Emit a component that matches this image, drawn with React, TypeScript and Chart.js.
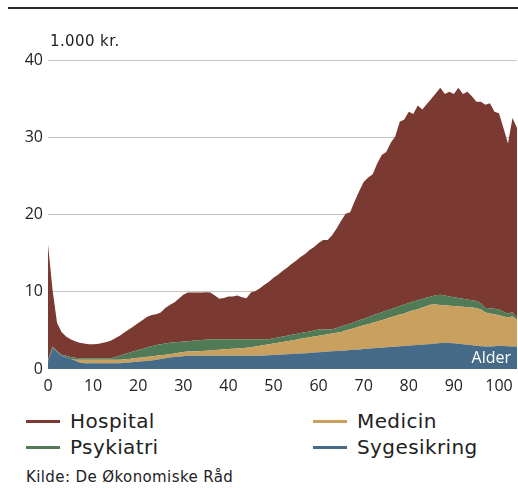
import React, { useEffect, useRef } from "react";
import { Chart, registerables } from "chart.js";

Chart.register(...registerables);

const AGES = [
  0, 1, 2, 3, 4, 5, 6, 7, 8, 9, 10, 11, 12, 13, 14, 15, 16, 17, 18, 19, 20,
  21, 22, 23, 24, 25, 26, 27, 28, 29, 30, 31, 32, 33, 34, 35, 36, 37, 38, 39, 40,
  41, 42, 43, 44, 45, 46, 47, 48, 49, 50, 51, 52, 53, 54, 55, 56, 57, 58, 59, 60,
  61, 62, 63, 64, 65, 66, 67, 68, 69, 70, 71, 72, 73, 74, 75, 76, 77, 78, 79, 80,
  81, 82, 83, 84, 85, 86, 87, 88, 89, 90, 91, 92, 93, 94, 95, 96, 97, 98, 99, 100,
  101, 102, 103, 104,
];

const SYGESIKRING = [
  1.0, 2.7, 2.2, 1.7, 1.5, 1.3, 1.1, 0.85, 0.75, 0.75, 0.75, 0.75, 0.75, 0.75, 0.75, 0.75, 0.75, 0.8, 0.85, 0.9, 0.95,
  1.0, 1.05, 1.1, 1.2, 1.3, 1.4, 1.5, 1.55, 1.6, 1.65, 1.7, 1.7, 1.7, 1.7, 1.7, 1.7, 1.7, 1.7, 1.7, 1.7,
  1.7, 1.7, 1.7, 1.7, 1.7, 1.7, 1.72, 1.75, 1.78, 1.81, 1.85, 1.88, 1.91, 1.94, 1.97, 2.0, 2.04, 2.08, 2.12, 2.16,
  2.21, 2.25, 2.29, 2.33, 2.37, 2.41, 2.45, 2.5, 2.54, 2.58, 2.63, 2.67, 2.72, 2.76, 2.8, 2.84, 2.88, 2.93, 2.97, 3.01,
  3.06, 3.1, 3.15, 3.2, 3.25, 3.3, 3.35, 3.4, 3.38, 3.32, 3.26, 3.2, 3.14, 3.08, 3.02, 2.96, 2.9, 2.9, 2.95, 3.0,
  2.98, 2.95, 2.92, 2.9,
];

const MEDICIN = [
  0, 0, 0, 0, 0, 0, 0.1, 0.35, 0.45, 0.45, 0.45, 0.45, 0.45, 0.45, 0.45, 0.45, 0.45, 0.45, 0.45, 0.48, 0.5,
  0.5, 0.52, 0.53, 0.5, 0.48, 0.45, 0.42, 0.45, 0.5, 0.55, 0.55, 0.58, 0.6, 0.63, 0.66, 0.7, 0.75, 0.8, 0.85, 0.9,
  0.93, 0.96, 1.0, 1.05, 1.1, 1.2, 1.28, 1.35, 1.42, 1.49, 1.55, 1.62, 1.69, 1.76, 1.83, 1.9, 1.96, 2.02, 2.08, 2.14,
  2.19, 2.25, 2.31, 2.37, 2.43, 2.59, 2.7, 2.8, 2.96, 3.07, 3.17, 3.33, 3.43, 3.54, 3.7, 3.86, 3.97, 4.12, 4.23, 4.39,
  4.54, 4.65, 4.8, 4.95, 5.1, 5.05, 4.95, 4.85, 4.82, 4.83, 4.84, 4.85, 4.86, 4.87, 4.88, 4.74, 4.4, 4.3, 4.15, 3.95,
  3.82, 3.75, 3.88, 3.45,
];

const PSYKIATRI = [
  0.1, 0.2, 0.15, 0.15, 0.2, 0.25, 0.25, 0.2, 0.2, 0.2, 0.2, 0.2, 0.2, 0.2, 0.2, 0.35, 0.55, 0.7, 0.8, 0.92, 1.0,
  1.1, 1.23, 1.32, 1.4, 1.42, 1.45, 1.48, 1.45, 1.4, 1.35, 1.35, 1.37, 1.4, 1.42, 1.44, 1.45, 1.4, 1.35, 1.3, 1.25,
  1.22, 1.19, 1.15, 1.1, 1.05, 0.95, 0.85, 0.75, 0.65, 0.67, 0.68, 0.7, 0.7, 0.72, 0.73, 0.75, 0.76, 0.77, 0.78, 0.8,
  0.7, 0.6, 0.52, 0.6, 0.7, 0.7, 0.75, 0.8, 0.8, 0.85, 0.9, 0.95, 1.0, 1.05, 1.05, 1.05, 1.1, 1.1, 1.15, 1.15,
  1.15, 1.15, 1.1, 1.1, 1.05, 1.2, 1.3, 1.25, 1.2, 1.15, 1.1, 1.05, 1.0, 0.95, 0.9, 0.8, 0.6, 0.65, 0.7, 0.75,
  0.6, 0.5, 0.55, 0.25,
];

const HOSPITAL = [
  15.0, 7.4, 3.65, 2.95, 2.5, 2.3, 2.15, 2.0, 1.9, 1.8, 1.8, 1.85, 1.95, 2.1, 2.3, 2.45, 2.6, 2.8, 3.05, 3.25, 3.5,
  3.75, 3.95, 4.05, 4.0, 4.1, 4.6, 4.9, 5.15, 5.6, 6.05, 6.3, 6.25, 6.2, 6.15, 6.15, 6.05, 5.65, 5.25, 5.35, 5.55,
  5.55, 5.65, 5.45, 5.3, 6.05, 6.25, 6.6, 7.05, 7.45, 7.83, 8.12, 8.5, 8.8, 9.18, 9.47, 9.85, 10.14, 10.53, 10.82, 11.2,
  11.6, 11.6, 12.18, 12.9, 13.7, 14.4, 14.4, 15.6, 16.7, 17.7, 18.1, 18.25, 19.45, 20.35, 20.55, 21.55, 22.15, 23.85, 23.95, 24.75,
  24.25, 25.2, 24.55, 25.05, 25.6, 26.15, 26.8, 26.1, 26.5, 26.3, 27.2, 26.5, 26.9, 26.4, 25.8, 26.1, 26.3, 26.55, 25.5, 25.4,
  23.8, 22.0, 25.15, 24.6,
];

const X_TICKS = [0, 10, 20, 30, 40, 50, 60, 70, 80, 90, 100];
const Y_TICKS = [0, 10, 20, 30, 40];
const UNIT_LABEL = "1.000 kr.";
const AXIS_LABEL = "Alder";
const SOURCE = "Kilde: De Økonomiske Råd";

const SERIES = [
  { name: "Sygesikring", values: SYGESIKRING, color: "#466b88" },
  { name: "Medicin", values: MEDICIN, color: "#caa05f" },
  { name: "Psykiatri", values: PSYKIATRI, color: "#517a56" },
  { name: "Hospital", values: HOSPITAL, color: "#7a3a31" },
];

const LEGEND_ORDER = ["Hospital", "Medicin", "Psykiatri", "Sygesikring"];

const FONT = '"Open Sans", "DejaVu Sans", sans-serif';
const WIDE_FONT = '"DejaVu Sans", "Open Sans", sans-serif';

export default function App() {
  const ref = useRef<HTMLCanvasElement | null>(null);

  useEffect(() => {
    if (!ref.current) return;
    const textPlugin = {
      id: "texts",
      afterDatasetsDraw(chart: any) {
        const { ctx, chartArea } = chart;
        ctx.save();
        ctx.font = `15px ${WIDE_FONT}`;
        (ctx as any).letterSpacing = "0.4px";
        ctx.fillStyle = "#222";
        ctx.textAlign = "left";
        ctx.textBaseline = "middle";
        ctx.fillText(UNIT_LABEL, chartArea.left + 2, chartArea.top - 18);
        (ctx as any).letterSpacing = "0px";
        ctx.font = `16px ${FONT}`;
        ctx.fillStyle = "#ffffff";
        ctx.textAlign = "right";
        ctx.fillText(AXIS_LABEL, chartArea.right - 6, chartArea.bottom - 11);
        ctx.restore();
      },
    };

    const chart = new Chart(ref.current, {
      type: "line",
      data: {
        datasets: SERIES.map((s, i) => ({
          label: s.name,
          data: AGES.map((a, j) => ({ x: a, y: s.values[j] })),
          backgroundColor: s.color,
          borderColor: s.color,
          borderWidth: 0,
          pointRadius: 0,
          tension: 0,
          fill: i === 0 ? "origin" : "-1",
        })),
      },
      options: {
        responsive: false,
        animation: false,
        events: [],
        layout: { padding: { top: 50, right: 1, bottom: 0, left: 0 } },
        plugins: {
          legend: { display: false },
          tooltip: { enabled: false },
        },
        scales: {
          x: {
            type: "linear",
            min: 0,
            max: 104,
            grid: { display: false, drawTicks: false },
            border: { display: false },
            afterBuildTicks: (s: any) => {
              s.ticks = X_TICKS.map((v) => ({ value: v }));
            },
            afterFit: (s: any) => {
              s.height = 31;
              s.paddingLeft = 0;
              s.paddingRight = 0;
            },
            ticks: {
              autoSkip: false,
              maxRotation: 0,
              padding: 8,
              color: "#222",
              font: { size: 16, family: FONT },
            },
          },
          y: {
            stacked: true,
            min: 0,
            max: 40,
            afterBuildTicks: (s: any) => {
              s.ticks = Y_TICKS.map((v) => ({ value: v }));
            },
            afterFit: (s: any) => {
              s.width = 40;
              s.paddingTop = 0;
              s.paddingBottom = 0;
            },
            grid: {
              color: (c: any) => (c.tick && c.tick.value === 0 ? "rgba(0,0,0,0)" : "#c4c4c4"),
              lineWidth: 1,
              drawTicks: false,
            },
            border: { display: false },
            ticks: {
              padding: 5,
              color: "#222",
              font: { size: 16, family: FONT },
            },
          },
        },
      },
      plugins: [textPlugin],
    } as any);
    return () => chart.destroy();
  }, []);

  const legendItems = LEGEND_ORDER.map((n) => SERIES.find((s) => s.name === n)!);

  return (
    <div
      style={{
        position: "fixed",
        top: 0,
        left: 0,
        width: 518,
        height: 488,
        overflow: "hidden",
        background: "#fff",
        fontFamily: WIDE_FONT,
        color: "#222",
      }}
    >
      <div
        style={{
          position: "absolute",
          top: 7,
          left: 8,
          width: 510,
          borderTop: "2px solid #2a2a2a",
          height: 0,
        }}
      />
      <canvas
        ref={ref}
        width={510}
        height={390}
        style={{ display: "block", position: "absolute", top: 10, left: 8 }}
      />
      <div
        style={{
          position: "absolute",
          top: 408,
          left: 26,
          display: "grid",
          gridTemplateColumns: "287px 220px",
        }}
      >
        {legendItems.map((s) => (
          <div
            key={s.name}
            style={{
              display: "flex",
              alignItems: "center",
              height: 26,
              fontSize: 20,
              letterSpacing: "0.4px",
            }}
          >
            <span
              style={{
                display: "inline-block",
                width: 34,
                height: 3,
                background: s.color,
                marginRight: 10,
                flex: "none",
              }}
            />
            <span style={{ lineHeight: "26px", whiteSpace: "nowrap" }}>{s.name}</span>
          </div>
        ))}
      </div>
      <div
        style={{
          position: "absolute",
          top: 468,
          left: 26,
          fontSize: 15,
          lineHeight: "18px",
          letterSpacing: "0.4px",
          whiteSpace: "nowrap",
        }}
      >
        {SOURCE}
      </div>
    </div>
  );
}
